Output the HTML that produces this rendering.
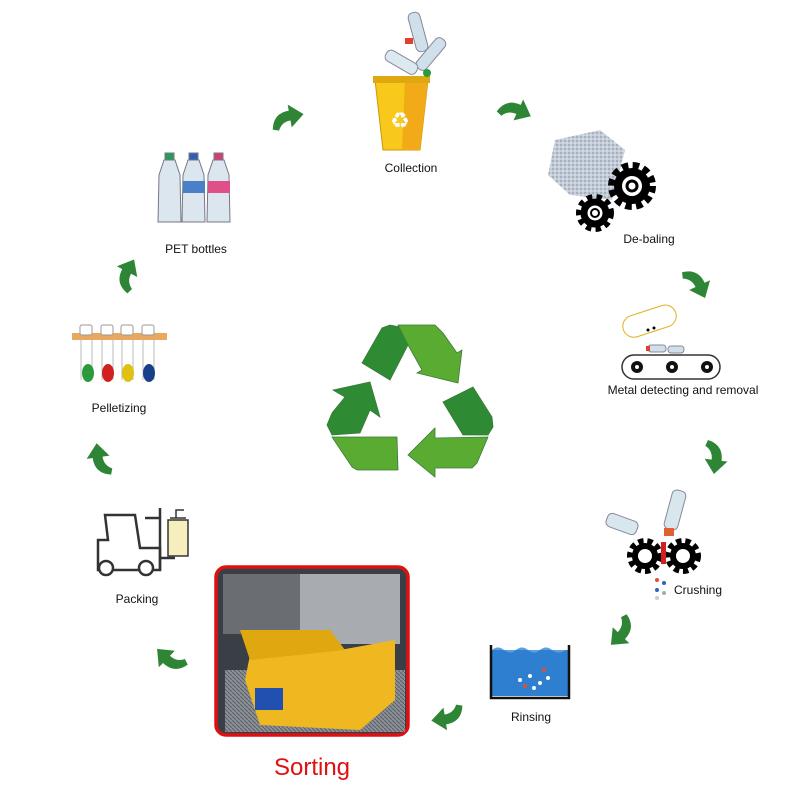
<!DOCTYPE html>
<html><head><meta charset="utf-8"><style>
body{margin:0;background:#fff;width:800px;height:800px;overflow:hidden}
svg{display:block}
text{font-family:"Liberation Sans",sans-serif;font-size:12px;fill:#111}
</style></head><body>
<svg width="800" height="800" viewBox="0 0 800 800" xmlns="http://www.w3.org/2000/svg">
<defs>
<path id="ar" d="M-16,9 Q-13,-7 3,-7 L3,-13 L17,-1 L3,10 L3,3 Q-6,3 -10,11 Z" fill="#2e8535"/>
<pattern id="grate" width="4" height="4" patternUnits="userSpaceOnUse"><rect width="4" height="4" fill="#8a9096"/><path d="M0,0 L4,4" stroke="#5a6066" stroke-width="1"/></pattern>
<pattern id="bale" width="4" height="4" patternUnits="userSpaceOnUse"><rect width="4" height="4" fill="#c4ccd8"/><circle cx="1" cy="1" r="1" fill="#9aa6b8"/><circle cx="3" cy="3" r="0.8" fill="#e4e8f0"/></pattern>
</defs>

<use href="#ar" transform="translate(287,118) rotate(-10)"/>
<use href="#ar" transform="translate(515,110) rotate(25)"/>
<use href="#ar" transform="translate(697,283) rotate(65)"/>
<use href="#ar" transform="translate(715,457) rotate(97)"/>
<use href="#ar" transform="translate(622,632) rotate(134)"/>
<use href="#ar" transform="translate(448,717) rotate(171)"/>
<use href="#ar" transform="translate(170,660) rotate(224)"/>
<use href="#ar" transform="translate(100,460) rotate(262)"/>
<use href="#ar" transform="translate(127,275) rotate(298)"/>

<g stroke="#3a7a3a" stroke-width="0.8">
<polygon points="362,363 382,328 390,325 400,327 408,345 390,380" fill="#2e8b33"/>
<polygon points="398,325 435,325 443,333 457,353 462,350 458,383 417,373 422,370 408,345" fill="#5aab32"/>
<polygon points="443,402 473,387 492,417 493,427 488,435 463,435" fill="#2e8b33"/>
<polygon points="488,437 477,463 472,468 435,468 435,477 408,455 435,428 435,438" fill="#5aab32"/>
<polygon points="327,425 332,413 345,397 333,390 370,382 380,417 370,410 360,433 332,435" fill="#2e8b33"/>
<polygon points="332,437 397,437 398,470 357,470 352,467" fill="#5aab32"/>
</g>

<g>
<path d="M375,80 L428,80 L420,150 L383,150 Z" fill="#f8c81a" stroke="#c9970a"/>
<path d="M405,80 L428,80 L420,150 L402,150 Z" fill="#f2aa18"/>
<rect x="373" y="76" width="57" height="7" fill="#e0a810"/>
<text x="400" y="128" text-anchor="middle" style="font-size:22px;fill:#fff">♻</text>
<rect x="412" y="12" width="12" height="40" rx="5" fill="#cfe0ea" stroke="#889" transform="rotate(-15 418 32)"/>
<rect x="425" y="35" width="12" height="38" rx="5" fill="#cfe0ea" stroke="#889" transform="rotate(40 431 54)"/>
<rect x="395" y="45" width="12" height="35" rx="5" fill="#dde9f0" stroke="#889" transform="rotate(-60 401 62)"/>
<rect x="405" y="38" width="8" height="6" fill="#e04030"/>
<circle cx="427" cy="73" r="4" fill="#2a9a3a"/>
<text x="411" y="172" text-anchor="middle">Collection</text>
</g>

<g>
<polygon points="555,140 600,130 625,150 612,200 570,195 548,175" fill="url(#bale)"/>
<circle cx="632" cy="186" r="19" fill="none" stroke="#000" stroke-width="10" stroke-dasharray="6 4"/>
<circle cx="632" cy="186" r="14" fill="none" stroke="#000" stroke-width="8"/>
<circle cx="632" cy="186" r="5" fill="none" stroke="#000" stroke-width="3"/>
<circle cx="595" cy="213" r="15" fill="none" stroke="#000" stroke-width="8" stroke-dasharray="5 4"/>
<circle cx="595" cy="213" r="11" fill="none" stroke="#000" stroke-width="7"/>
<circle cx="595" cy="213" r="4" fill="none" stroke="#000" stroke-width="2"/>
<text x="649" y="243" text-anchor="middle">De-baling</text>
</g>

<g>
<rect x="622" y="310" width="55" height="22" rx="11" fill="#fff" stroke="#e0b020" transform="rotate(-18 650 321)"/>
<circle cx="648" cy="330" r="1.5"/><circle cx="654" cy="328" r="1.5"/>
<rect x="622" y="355" width="98" height="24" rx="12" fill="#fff" stroke="#333" stroke-width="1.5"/>
<circle cx="637" cy="367" r="6" fill="#111"/><circle cx="637" cy="367" r="2" fill="#fff"/>
<circle cx="672" cy="367" r="6" fill="#111"/><circle cx="672" cy="367" r="2" fill="#fff"/>
<circle cx="707" cy="367" r="6" fill="#111"/><circle cx="707" cy="367" r="2" fill="#fff"/>
<rect x="648" y="345" width="18" height="7" rx="3" fill="#cfe0ea" stroke="#889"/>
<rect x="668" y="346" width="16" height="7" rx="3" fill="#cfe0ea" stroke="#889"/>
<rect x="646" y="346" width="4" height="5" fill="#e04030"/>
<text x="683" y="394" text-anchor="middle">Metal detecting and removal</text>
</g>

<g>
<rect x="615" y="508" width="14" height="32" rx="5" fill="#d8e6ee" stroke="#889" transform="rotate(-70 622 524)"/>
<rect x="668" y="490" width="14" height="40" rx="5" fill="#d8e6ee" stroke="#889" transform="rotate(15 675 510)"/>
<rect x="664" y="528" width="10" height="8" fill="#e06030"/>
<circle cx="645" cy="556" r="14" fill="none" stroke="#000" stroke-width="8" stroke-dasharray="5 3.5"/>
<circle cx="645" cy="556" r="10" fill="none" stroke="#000" stroke-width="6"/>
<circle cx="683" cy="556" r="14" fill="none" stroke="#000" stroke-width="8" stroke-dasharray="5 3.5"/>
<circle cx="683" cy="556" r="10" fill="none" stroke="#000" stroke-width="6"/>
<rect x="661" y="542" width="5" height="22" fill="#d02020"/>
<circle cx="657" cy="580" r="2" fill="#e05030"/><circle cx="664" cy="583" r="2" fill="#3060c0"/>
<circle cx="657" cy="590" r="2" fill="#3060c0"/><circle cx="664" cy="593" r="2" fill="#aaa"/><circle cx="657" cy="598" r="2" fill="#ccc"/>
<text x="698" y="594" text-anchor="middle">Crushing</text>
</g>

<g>
<rect x="492" y="650" width="76" height="46" fill="#2f7fd0"/>
<path d="M492,650 q6,-5 12,0 t12,0 t12,0 t12,0 t12,0 t14,0" fill="#5aa0e0"/>
<path d="M491,645 L491,698 L569,698 L569,645" fill="none" stroke="#111" stroke-width="2.5"/>
<g fill="#fff"><circle cx="520" cy="680" r="2"/><circle cx="530" cy="676" r="2"/><circle cx="540" cy="683" r="2"/><circle cx="534" cy="688" r="2"/><circle cx="548" cy="678" r="2"/></g>
<circle cx="525" cy="686" r="2" fill="#e05030"/><circle cx="544" cy="670" r="2" fill="#e05030"/>
<text x="531" y="721" text-anchor="middle">Rinsing</text>
</g>

<g>
<rect x="216" y="567" width="192" height="168" rx="10" fill="#3a3f46" stroke="#e01010" stroke-width="3.5"/>
<rect x="223" y="574" width="80" height="60" fill="#6a6e72"/>
<rect x="300" y="574" width="100" height="70" fill="#a8acb0"/>
<rect x="225" y="670" width="180" height="62" fill="url(#grate)"/>
<polygon points="250,655 340,650 395,640 395,700 360,730 260,725 245,680" fill="#f0b820"/>
<polygon points="240,630 330,630 345,650 250,660" fill="#e0a810"/>
<rect x="255" y="688" width="28" height="22" fill="#2050b0"/>
<text x="312" y="775" text-anchor="middle" style="font-size:24px;fill:#e01010">Sorting</text>
</g>

<g fill="none" stroke="#333" stroke-width="2.5">
<path d="M105,515 L135,515 L140,548 L160,548 L160,570 L98,570 L98,540 L108,540 Z"/>
<circle cx="106" cy="568" r="7" fill="#fff"/>
<circle cx="146" cy="568" r="7" fill="#fff"/>
<path d="M160,508 L160,570 M160,558 L175,558 M145,518 L160,518"/>
<rect x="168" y="520" width="20" height="36" fill="#f6eebc" stroke-width="1.5"/>
<path d="M170,518 L186,518 M176,518 L176,510 L184,510" stroke-width="1.5"/>
</g>
<text x="137" y="603" text-anchor="middle">Packing</text>

<g>
<rect x="72" y="333" width="95" height="7" fill="#e8a860"/>
<g fill="#fff" stroke="#999">
<rect x="80" y="325" width="12" height="10" rx="2"/><rect x="101" y="325" width="12" height="10" rx="2"/>
<rect x="121" y="325" width="12" height="10" rx="2"/><rect x="142" y="325" width="12" height="10" rx="2"/>
</g>
<g stroke="#bbb"><line x1="81" y1="340" x2="81" y2="380"/><line x1="92" y1="340" x2="92" y2="380"/>
<line x1="102" y1="340" x2="102" y2="380"/><line x1="113" y1="340" x2="113" y2="380"/>
<line x1="122" y1="340" x2="122" y2="380"/><line x1="133" y1="340" x2="133" y2="380"/>
<line x1="143" y1="340" x2="143" y2="380"/><line x1="154" y1="340" x2="154" y2="380"/></g>
<ellipse cx="88" cy="373" rx="6" ry="9" fill="#2a9a3a"/>
<ellipse cx="108" cy="373" rx="6" ry="9" fill="#d02020"/>
<ellipse cx="128" cy="373" rx="6" ry="9" fill="#e0c010"/>
<ellipse cx="149" cy="373" rx="6" ry="9" fill="#1a3f8a"/>
<text x="119" y="412" text-anchor="middle">Pelletizing</text>
</g>

<g stroke="#778" stroke-width="1">
<rect x="165" y="153" width="9" height="7" fill="#2a9a5a"/>
<rect x="189" y="153" width="9" height="7" fill="#3060b0"/>
<rect x="214" y="153" width="9" height="7" fill="#d04070"/>
<path d="M164,160 L175,160 L180,175 L181,222 L158,222 L159,175 Z" fill="#dbe6ee"/>
<path d="M188,160 L199,160 L204,175 L205,222 L182,222 L183,175 Z" fill="#dbe6ee"/>
<path d="M213,160 L224,160 L229,175 L230,222 L207,222 L208,175 Z" fill="#dbe6ee"/>
<rect x="183" y="181" width="22" height="12" fill="#4a80c8" stroke="none"/>
<rect x="208" y="181" width="22" height="12" fill="#e05088" stroke="none"/>
</g>
<text x="196" y="253" text-anchor="middle">PET bottles</text>
</svg>
</body></html>
